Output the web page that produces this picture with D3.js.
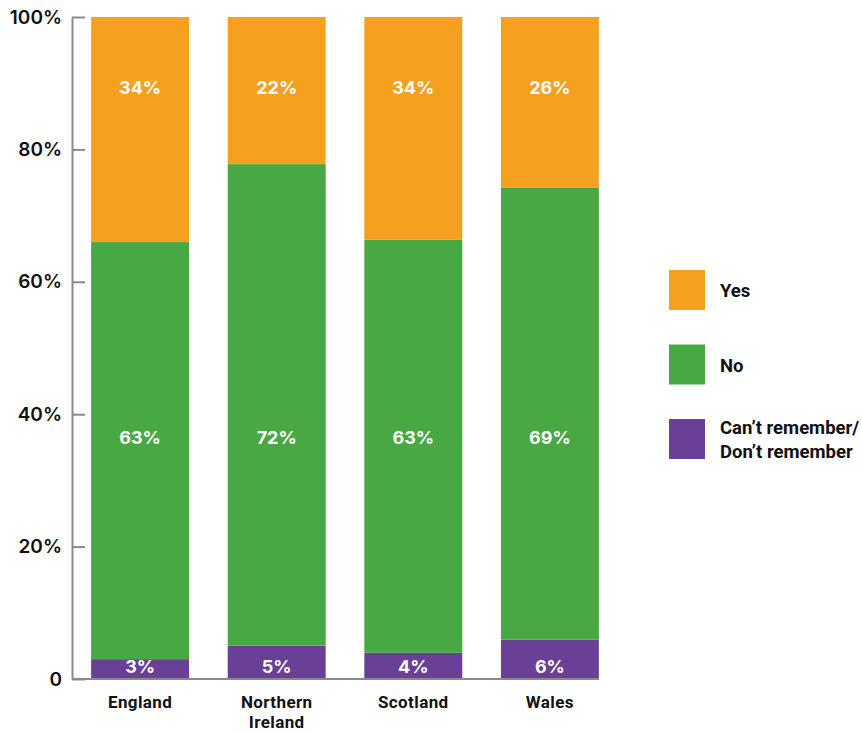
<!DOCTYPE html>
<html>
<head>
<meta charset="utf-8">
<script src="https://cdn.jsdelivr.net/npm/d3@7"></script>
<style>
  html, body { margin: 0; padding: 0; background: #fff; }
  svg { display: block; }
</style>
</head>
<body>
<svg id="chart" width="862" height="733"></svg>
<script>
// Survey responses by nation (percent, as labelled)
const categories = ["England", "Northern Ireland", "Scotland", "Wales"];
const categoryLines = [["England"], ["Northern", "Ireland"], ["Scotland"], ["Wales"]];
const seriesKeys = ["dont", "no", "yes"];
const seriesNames = { yes: "Yes", no: "No", dont: "Can\u2019t remember/\nDon\u2019t remember" };
const yesValues = [34, 22, 34, 26];
const noValues = [63, 72, 63, 69];
const dontValues = [3, 5, 4, 6];
const tickValues = [0, 0.2, 0.4, 0.6, 0.8, 1];
const tickLabels = ["0", "20%", "40%", "60%", "80%", "100%"];
const legendOrder = ["yes", "no", "dont"];

const colors = { yes: "#F5A11F", no: "#48A843", dont: "#6A3F98" };

const rows = categories.map((c, i) => ({
  category: c, yes: yesValues[i], no: noValues[i], dont: dontValues[i]
}));

const svg = d3.select("#chart");
const plot = { left: 72, right: 618, top: 17, bottom: 679 };

const x = d3.scaleBand()
  .domain(categories)
  .range([plot.left, plot.right])
  .paddingInner(0.283)
  .paddingOuter(0.14);

const y = d3.scaleLinear().domain([0, 1]).range([plot.bottom, plot.top]);

// 100% stacked layout: each bar normalised to its total
const stack = d3.stack().keys(seriesKeys).offset(d3.stackOffsetExpand);
const layers = stack(rows);

svg.append("g")
  .selectAll("g")
  .data(layers)
  .join("g")
  .attr("fill", d => colors[d.key])
  .selectAll("rect")
  .data(d => d)
  .join("rect")
  .attr("x", d => x(d.data.category))
  .attr("width", x.bandwidth())
  .attr("y", d => y(d[1]))
  .attr("height", d => y(d[0]) - y(d[1]));

// Y axis
const yAxis = d3.axisLeft(y)
  .tickValues(tickValues)
  .tickFormat((d, i) => tickLabels[i])
  .tickSizeInner(-13)
  .tickSizeOuter(0)
  .tickPadding(10);

const yg = svg.append("g")
  .attr("transform", `translate(${plot.left},0)`)
  .call(yAxis);
yg.select(".domain").attr("stroke", "#8a8a8a").attr("stroke-width", 2);
yg.selectAll(".tick line").attr("stroke", "#8a8a8a").attr("stroke-width", 2);
yg.selectAll(".tick text")
  .attr("x", -10)
  .attr("fill", "#111")
  .style("font-family", "Inter, 'Noto Sans', sans-serif")
  .style("font-weight", 600)
  .style("font-size", "19px");

// Baseline
svg.append("line")
  .attr("x1", plot.left).attr("x2", x(categories[3]) + x.bandwidth())
  .attr("y1", y(0)).attr("y2", y(0))
  .attr("stroke", "#8a8a8a").attr("stroke-width", 2);

// Category labels
const catG = svg.append("g");
categories.forEach((c, i) => {
  const t = catG.append("text")
    .attr("x", x(c) + x.bandwidth() / 2)
    .attr("y", 708)
    .attr("text-anchor", "middle")
    .attr("fill", "#111")
    .style("font-family", "Roboto, 'Liberation Sans', sans-serif")
    .style("font-weight", 700)
    .style("font-size", "17px")
    .style("letter-spacing", "0.4px");
  categoryLines[i].forEach((line, j) => {
    t.append("tspan").attr("x", x(c) + x.bandwidth() / 2).attr("dy", j === 0 ? 0 : 20).text(line);
  });
});

// Value labels inside bars
const labelLevel = { yes: 0.893, no: 0.364, dont: 0.018 };
layers.forEach(layer => {
  svg.append("g").selectAll("text")
    .data(layer)
    .join("text")
    .attr("x", d => x(d.data.category) + x.bandwidth() / 2)
    .attr("y", y(labelLevel[layer.key]))
    .attr("dy", "0.35em")
    .attr("text-anchor", "middle")
    .attr("fill", "#fff")
    .style("font-family", "Inter, 'Noto Sans', sans-serif")
    .style("font-weight", 700)
    .style("font-size", "18px")
    .text(d => d.data[layer.key] + "%");
});

// Legend
const legend = svg.append("g").attr("transform", "translate(669,270)");
const legendStep = 74.5;
legendOrder.forEach((k, i) => {
  const g = legend.append("g").attr("transform", `translate(0,${i * legendStep})`);
  g.append("rect").attr("width", 36).attr("height", 40).attr("fill", colors[k]);
  const lines = seriesNames[k].split("\n");
  const t = g.append("text")
    .attr("x", 51)
    .attr("y", 21 - (lines.length - 1) * 12)
    .attr("fill", "#111")
    .style("font-family", "Roboto, 'Liberation Sans', sans-serif")
    .style("font-weight", 700)
    .style("font-size", "18.5px");
  lines.forEach((line, j) => {
    t.append("tspan").attr("x", 51).attr("dy", j === 0 ? "0.35em" : 24).text(line);
  });
});
</script>
</body>
</html>
